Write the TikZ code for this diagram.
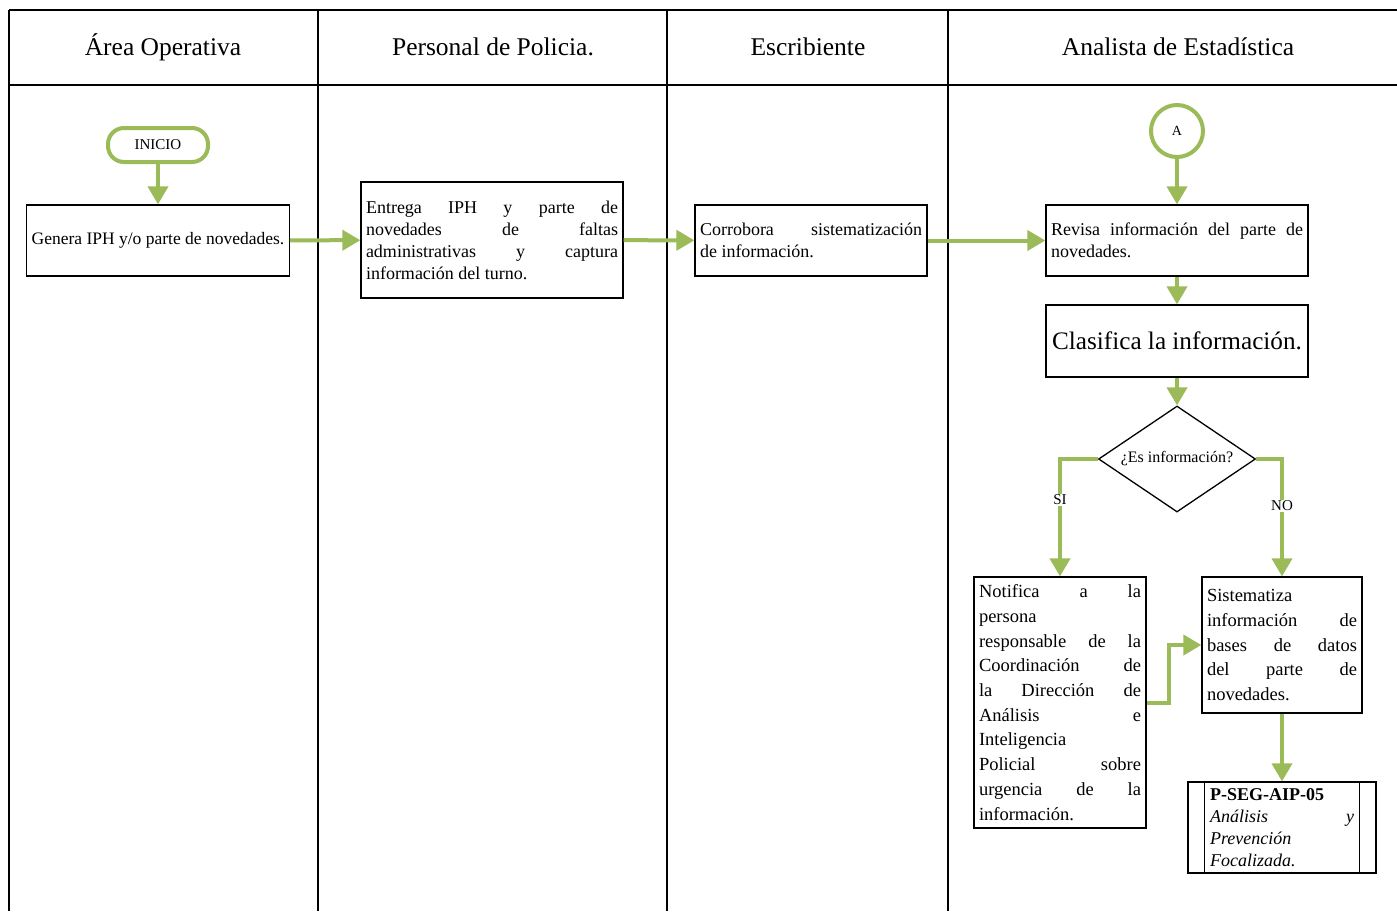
\documentclass[tikz,border=0pt]{standalone}
\usepackage{fontspec}
\setmainfont{Liberation Serif}
\usetikzlibrary{arrows.meta,shapes.geometric}

\definecolor{olive}{RGB}{155,187,89}

\tikzset{
  flow/.style={draw=olive, line width=4pt, -{Triangle[length=18pt,width=20pt]}},
  paso/.style={draw, line width=1.3pt, rectangle, inner sep=5pt, font=\fontsize{18}{22}\selectfont},
  lane/.style={line width=1.3pt},
  head/.style={font=\fontsize{25.5}{30}\selectfont},
  etiq/.style={fill=white, inner sep=1pt, font=\fontsize{15}{17}\selectfont}
}

\begin{document}
\begin{tikzpicture}[x=1pt,y=-1pt]
\useasboundingbox (0,0) rectangle (1397,911);

% carriles
\draw[lane] (9,10) -- (1397,10);
\draw[lane] (9,85) -- (1397,85);
\draw[lane] (9,10) -- (9,911);
\draw[lane] (318,10) -- (318,911);
\draw[lane] (667,10) -- (667,911);
\draw[lane] (948,10) -- (948,911);

\node[head] (h1) at (163,47) {Área Operativa};
\node[head] (h2) at (493,47) {Personal de Policia.};
\node[head] (h3) at (808,47) {Escribiente};
\node[head] (h4) at (1178,47) {Analista de Estadística};

% area operativa
\node[draw=olive, line width=4pt, rounded corners=16pt, minimum width=100pt, minimum height=34pt, font=\fontsize{15}{17}\selectfont] (ini) at (158,145) {INICIO};
\node[paso, minimum width=262pt, minimum height=71pt, font=\fontsize{17.5}{20}\selectfont] (gen) at (158,240.5) {Genera IPH y/o parte de novedades.};

% personal de policia
\node[paso, minimum width=262pt, minimum height=116pt, text width=252pt, align=justify] (ent) at (492,240) {Entrega IPH y parte de\linebreak novedades de faltas\linebreak administrativas y captura\linebreak información del turno.};

% escribiente
\node[paso, minimum width=232pt, minimum height=71pt, text width=222pt, align=justify] (cor) at (811,240.5) {Corrobora sistematización\linebreak de información.};

% analista
\node[draw=olive, line width=4pt, circle, minimum size=52pt, font=\fontsize{14}{16}\selectfont] (a) at (1177,131) {A};
\node[paso, minimum width=262pt, minimum height=71pt, text width=252pt, align=justify] (rev) at (1177,240.5) {Revisa información del parte de\linebreak novedades.};
\node[paso, minimum width=262pt, minimum height=72pt, font=\fontsize{25.2}{29}\selectfont] (cla) at (1177,341) {Clasifica la información.};
\node[draw, line width=1.3pt, diamond, shape aspect=1.5, minimum width=157pt, minimum height=106pt, inner sep=0pt, font=\fontsize{16}{18}\selectfont] (dec) at (1177,459) {¿Es información?};

\node[paso, minimum width=170pt, minimum height=251pt, text width=162pt, align=justify, font=\fontsize{18.5}{24.7}\selectfont] (not) at (1060,702.5) {Notifica a la\linebreak persona\\ responsable de la\linebreak Coordinación de\linebreak la Dirección de\linebreak Análisis e\linebreak Inteligencia\\ Policial sobre\linebreak urgencia de la\linebreak información.};
\node[paso, minimum width=160pt, minimum height=136pt, text width=150pt, align=justify, font=\fontsize{18.5}{24.7}\selectfont] (sis) at (1282,645) {Sistematiza\\ información de\linebreak bases de datos\linebreak del parte de\linebreak novedades.};

\node[paso, minimum width=188pt, minimum height=91pt, text width=144pt, inner xsep=22pt, align=justify] (psg) at (1282,827.5) {\textbf{P-SEG-AIP-05}\\ \textit{Análisis y}\linebreak \textit{Prevención}\\ \textit{Focalizada.}};
\draw[line width=1.3pt] ([xshift=17pt]psg.north west) -- ([xshift=17pt]psg.south west);
\draw[line width=1.3pt] ([xshift=-17pt]psg.north east) -- ([xshift=-17pt]psg.south east);

% flechas
\draw[flow] (ini) -- (gen);
\draw[flow] (gen) -- (ent);
\draw[flow] (ent) -- (cor);
\draw[flow] (cor) -- (rev);
\draw[flow] (a) -- (rev);
\draw[flow] (rev) -- (cla);
\draw[flow] (cla) -- (dec);
\draw[flow] (dec.west) -| node[etiq, pos=0.675] {SI} (not.north);
\draw[flow] (dec.east) -| node[etiq, pos=0.7] {NO} (sis.north);
\draw[flow] (not.east) -- ++(22,0) |- (sis.west);
\draw[flow] (sis) -- (psg);
\end{tikzpicture}
\end{document}
